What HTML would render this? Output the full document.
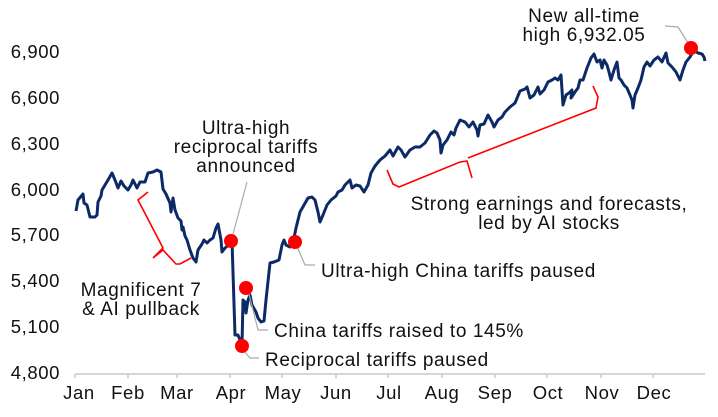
<!DOCTYPE html>
<html><head><meta charset="utf-8"><style>
html,body{margin:0;padding:0;background:#fff;}
svg{display:block;font-family:"Liberation Sans",sans-serif;}
text{letter-spacing:0.6px;}
</style></head><body>
<svg width="718" height="417" viewBox="0 0 718 417">
<g font-size="18.5" fill="#111" text-anchor="end">
<text x="60" y="58">6,900</text>
<text x="60" y="104">6,600</text>
<text x="60" y="150">6,300</text>
<text x="60" y="196">6,000</text>
<text x="60" y="241">5,700</text>
<text x="60" y="287">5,400</text>
<text x="60" y="333">5,100</text>
<text x="60" y="379">4,800</text>
</g>
<line x1="75" y1="374" x2="705" y2="374" stroke="#c8c8c8" stroke-width="1.5"/>
<g stroke="#c8c8c8" stroke-width="1.5">
<line x1="75" y1="374" x2="75" y2="378"/><line x1="128" y1="374" x2="128" y2="378"/><line x1="177" y1="374" x2="177" y2="378"/><line x1="230" y1="374" x2="230" y2="378"/><line x1="282" y1="374" x2="282" y2="378"/><line x1="336" y1="374" x2="336" y2="378"/><line x1="388" y1="374" x2="388" y2="378"/><line x1="442" y1="374" x2="442" y2="378"/><line x1="495" y1="374" x2="495" y2="378"/><line x1="547" y1="374" x2="547" y2="378"/><line x1="601" y1="374" x2="601" y2="378"/><line x1="653" y1="374" x2="653" y2="378"/>
</g>
<g font-size="18.5" fill="#111" text-anchor="middle">
<text x="79" y="399">Jan</text><text x="128" y="399">Feb</text><text x="177" y="399">Mar</text><text x="231" y="399">Apr</text><text x="283" y="399">May</text><text x="336" y="399">Jun</text><text x="389" y="399">Jul</text><text x="442" y="399">Aug</text><text x="495" y="399">Sep</text><text x="548" y="399">Oct</text><text x="602" y="399">Nov</text><text x="654" y="399">Dec</text>
</g>
<polyline fill="none" stroke="#0b2a66" stroke-width="3" stroke-linejoin="round" points="76,211 78,200 83,194 84,203 87,205 90,217 95,217 97,215 98,202 101,196 102,190 108,180 112,173 115,180 118,188 121,181 124,186 128,190 131,185 133,180 137,188 140,182 145,182 148,173 153,172 157,170 161,172 163,189 166,194 170,203 171,212 173,198 175,210 178,218 181,221 182,230 183,227 185,236 187,240 190,250 193,258 196,262 198,250 202,244 204,240 207,243 210,240 213,238 216,228 218,224 221,240 222,252 225,248 230,244 232,241 235,335 238,335 240,340 242,345 243,300 245,302 246,313 248,300 250,295 252,305 256,312 258,318 261,322 264,321 266,300 270,263 274,262 279,260 282,245 284,240 286,245 290,247 293,243 296,228 300,212 304,205 308,198 312,197 315,200 318,212 320,222 323,215 327,205 331,200 336,196 338,192 342,190 345,185 350,180 352,188 356,185 360,186 364,192 368,185 371,173 375,166 380,160 385,156 390,150 393,156 398,147 401,150 405,157 410,150 415,147 420,147 425,143 430,135 434,131 437,133 440,140 441,153 443,145 447,140 451,132 454,135 456,128 460,120 465,122 469,127 473,122 477,130 478,136 480,125 484,124 488,115 492,122 494,127 498,120 502,117 505,112 510,107 515,103 520,91 525,89 527,87 530,98 534,95 538,87 540,94 544,90 548,82 552,80 555,78 558,80 561,75 562,90 563,105 566,95 569,93 572,90 571,98 575,92 578,88 580,80 583,80 587,68 591,58 594,54 597,62 600,60 602,68 604,60 607,65 609,72 611,80 614,70 617,62 619,78 621,80 624,85 627,88 630,95 632,100 633,108 635,95 638,88 641,80 644,67 647,62 650,66 654,60 658,57 662,62 666,53 668,63 672,67 676,72 680,80 683,70 686,62 690,57 694,50 698,53 702,54 704,57 705,61"/>
<g fill="none" stroke="#f00" stroke-width="1.6">
<polyline points="148,192 138,200 163,248 153,258 163,250 176,264 180,264 191,258"/>
<polyline points="387,170 393,184 399,187 460,162 467,161 472,178"/>
<polyline points="468,158 596,108 598,97 593,86"/>
</g>
<g fill="none" stroke="#aaa" stroke-width="1.2">
<polyline points="247,182 232,238"/>
<polyline points="296,244 305,265 315,265"/>
<polyline points="248,290 258,330 268,330"/>
<polyline points="243,350 250,358 259,358"/>
<polyline points="665,26 678,27 690,46"/>
</g>
<g fill="#f00">
<circle cx="231" cy="241" r="7"/><circle cx="242" cy="346" r="7"/><circle cx="246" cy="288" r="7"/><circle cx="295" cy="242" r="7"/><circle cx="691" cy="48" r="7"/>
</g>
<g font-size="19" fill="#111" text-anchor="middle">
<text x="246" y="134">Ultra-high</text>
<text x="246" y="153">reciprocal tariffs</text>
<text x="246" y="172">announced</text>
<text x="141" y="296">Magnificent 7</text>
<text x="141" y="315">&amp; AI pullback</text>
<text x="549" y="210">Strong earnings and forecasts,</text>
<text x="549" y="229">led by AI stocks</text>
<text x="584" y="22">New all-time</text>
<text x="584" y="41">high  6,932.05</text>
</g>
<g font-size="19" fill="#111">
<text x="321" y="277">Ultra-high China tariffs paused</text>
<text x="274" y="337">China tariffs raised to 145%</text>
<text x="265" y="366">Reciprocal tariffs paused</text>
</g>
</svg>
</body></html>
